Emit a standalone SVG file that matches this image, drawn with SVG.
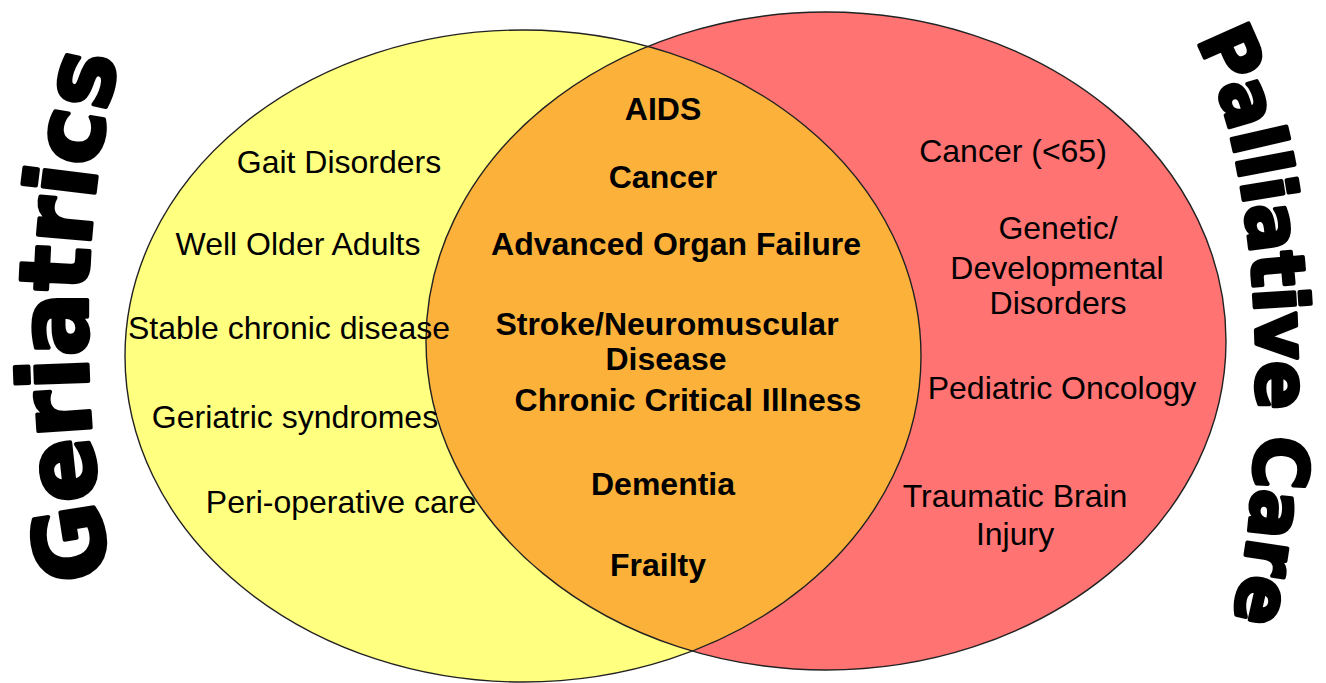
<svg xmlns="http://www.w3.org/2000/svg" width="1326" height="683" viewBox="0 0 1326 683">
  <style>
    .lbl { font-family: "Liberation Sans", Arial, sans-serif; font-size: 32px; fill: #000; text-anchor: middle; }
    .b { font-weight: bold; }
    .title { font-family: "DejaVu Sans", "Liberation Sans", sans-serif; font-weight: bold; fill: #000; stroke: #000; stroke-width: 4; stroke-linejoin: round; }
    .outline { fill: none; stroke: #222; stroke-width: 1.4; }
  </style>
  <defs>
    <ellipse id="eL" cx="523" cy="356" rx="398" ry="326"/>
    <ellipse id="eR" cx="826" cy="341" rx="400" ry="329"/>
    <clipPath id="clipR"><use href="#eR"/></clipPath>
    <path id="arcG" d="M113,590 Q57,300 122,45"/>
    <path id="arcP" d="M1188,28 C1271,150 1271,500 1230,625"/>
  </defs>

  <rect width="1326" height="683" fill="#fff"/>

  <g id="geriatrics-circle">
    <use href="#eL" fill="#FFFF80"/>
  </g>
  <g id="palliative-circle">
    <use href="#eR" fill="#FF7373"/>
  </g>
  <g id="overlap">
    <use href="#eL" fill="#FCB23A" clip-path="url(#clipR)"/>
  </g>
  <g id="outlines">
    <use href="#eL" class="outline"/>
    <use href="#eR" class="outline"/>
  </g>

  <g id="connectors"/>

  <g id="title-geriatrics">
    <text class="title" font-size="96"><textPath href="#arcG" startOffset="14" textLength="522" lengthAdjust="spacingAndGlyphs">Geriatrics</textPath></text>
  </g>
  <g id="title-palliative">
    <text class="title" font-size="74"><textPath href="#arcP" startOffset="14" textLength="590" lengthAdjust="spacingAndGlyphs">Palliative Care</textPath></text>
  </g>

  <g id="geriatrics-items">
    <g id="n-gait"><text class="lbl" x="339" y="173">Gait Disorders</text></g>
    <g id="n-well"><text class="lbl" x="298" y="255">Well Older Adults</text></g>
    <g id="n-stable"><text class="lbl" x="289" y="339">Stable chronic disease</text></g>
    <g id="n-syndromes"><text class="lbl" x="295" y="428">Geriatric syndromes</text></g>
    <g id="n-periop"><text class="lbl" x="341" y="513">Peri-operative care</text></g>
  </g>

  <g id="overlap-items">
    <g id="n-aids"><text class="lbl b" x="663" y="120">AIDS</text></g>
    <g id="n-cancer"><text class="lbl b" x="663" y="188">Cancer</text></g>
    <g id="n-organ"><text class="lbl b" x="676" y="255">Advanced Organ Failure</text></g>
    <g id="n-stroke"><text class="lbl b" x="667" y="335">Stroke/Neuromuscular</text><text class="lbl b" x="666" y="370">Disease</text></g>
    <g id="n-cci"><text class="lbl b" x="688" y="411">Chronic Critical Illness</text></g>
    <g id="n-dementia"><text class="lbl b" x="663" y="495">Dementia</text></g>
    <g id="n-frailty"><text class="lbl b" x="658" y="576">Frailty</text></g>
  </g>

  <g id="palliative-items">
    <g id="n-cancer65"><text class="lbl" x="1013" y="162">Cancer (&lt;65)</text></g>
    <g id="n-genetic"><text class="lbl" x="1058" y="239">Genetic/</text><text class="lbl" x="1057" y="279">Developmental</text><text class="lbl" x="1058" y="314">Disorders</text></g>
    <g id="n-pedonc"><text class="lbl" x="1062" y="399">Pediatric Oncology</text></g>
    <g id="n-tbi"><text class="lbl" x="1015" y="507">Traumatic Brain</text><text class="lbl" x="1015" y="545">Injury</text></g>
  </g>
</svg>
